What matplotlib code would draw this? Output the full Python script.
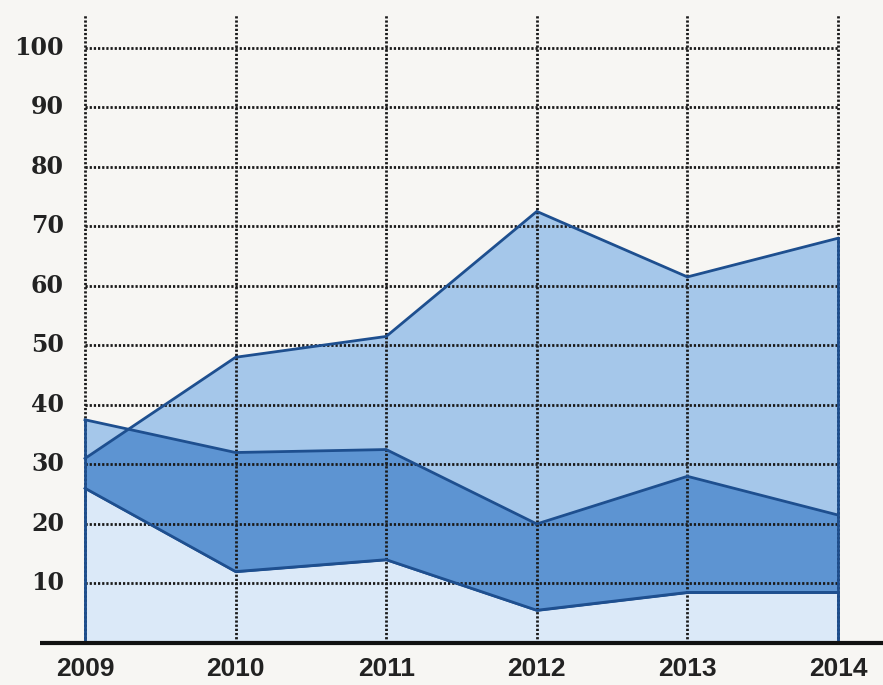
import numpy as np
import matplotlib.pyplot as plt
from matplotlib import font_manager

years = ["2009", "2010", "2011", "2012", "2013", "2014"]
top_series = [31, 48, 51.5, 72.5, 61.5, 68]
mid_series = [37.5, 32, 32.5, 20, 28, 21.5]
low_series = [26, 12, 14, 5.5, 8.5, 8.5]
y_ticks = [10, 20, 30, 40, 50, 60, 70, 80, 90, 100]

BG = "#f7f6f3"
LIGHTEST = "#dbe9f8"
LIGHT = "#a5c7ea"
MEDIUM = "#5d94d2"
EDGE = "#1e4f8f"

# narrow font for the year labels if there is one
installed = {f.name for f in font_manager.fontManager.ttflist}
if "Liberation Sans Narrow" in installed:
    year_font, year_size = "Liberation Sans Narrow", 24
else:
    year_font, year_size = "Liberation Sans", 19

x = np.arange(len(years))
top = np.array(top_series)
mid = np.array(mid_series)
low = np.array(low_series)

fig = plt.figure(figsize=(8.83, 6.85), dpi=100)
fig.patch.set_facecolor(BG)

# axes placed so year 0 sits at ~85px, year 5 at ~838px, y=0 at ~643px
ax = fig.add_axes([0, 42 / 685, 1, 628 / 685])
ax.set_facecolor(BG)
step = (838 - 85) / 5
ax.set_xlim(-85 / step, (883 - 85) / step)
ax.set_ylim(0, 105.5)
ax.axis("off")

# bottom area
ax.fill_between(x, 0, low, facecolor=LIGHTEST, edgecolor=EDGE,
                linewidth=1.5, zorder=1)

# two bands starting at the lower line
band_top = ax.fill_between(x, low, top, facecolor=LIGHT, edgecolor="none",
                           zorder=2)
band_mid = ax.fill_between(x, low, mid, facecolor=LIGHT, edgecolor="none",
                           zorder=2)

# overlap of both bands is darker
overlap = ax.fill_between(x, low, top, facecolor=MEDIUM, edgecolor="none",
                          zorder=3)
overlap.set_clip_path(band_mid.get_paths()[0], ax.transData)

# grid
grid_kw = dict(color="#1a1a1a", linewidth=2, linestyle=(0, (0.8, 0.7)),
               zorder=4)
ax.hlines(y_ticks, x[0], x[-1], **grid_kw)
ax.vlines(x, 0, 105.5, **grid_kw)

# outlines
line_kw = dict(color=EDGE, linewidth=2, zorder=5, solid_joinstyle="miter")
ax.plot(x, top, **line_kw)
ax.plot(x, mid, **line_kw)
ax.plot(x, low, **line_kw)
ax.plot([x[0], x[0]], [0, max(top[0], mid[0])], **line_kw)
ax.plot([x[-1], x[-1]], [0, max(top[-1], mid[-1])], **line_kw)

# baseline
ax.plot([-45 / step, (890 - 85) / step], [0, 0], color="#111111",
        linewidth=3, zorder=6, clip_on=False, solid_capstyle="butt")

# y labels
for v in y_ticks:
    ax.text(-21 / step, v, str(v), ha="right", va="center",
            fontsize=17, fontweight="bold", family="DejaVu Serif",
            color="#222222")

# x labels
for xi, label in zip(x, years):
    ax.text(xi, -4.4, label, ha="center", va="center",
            fontsize=year_size, fontweight="bold", family=year_font,
            color="#222222", clip_on=False)

fig.savefig("out.png", dpi=100, facecolor=BG)
